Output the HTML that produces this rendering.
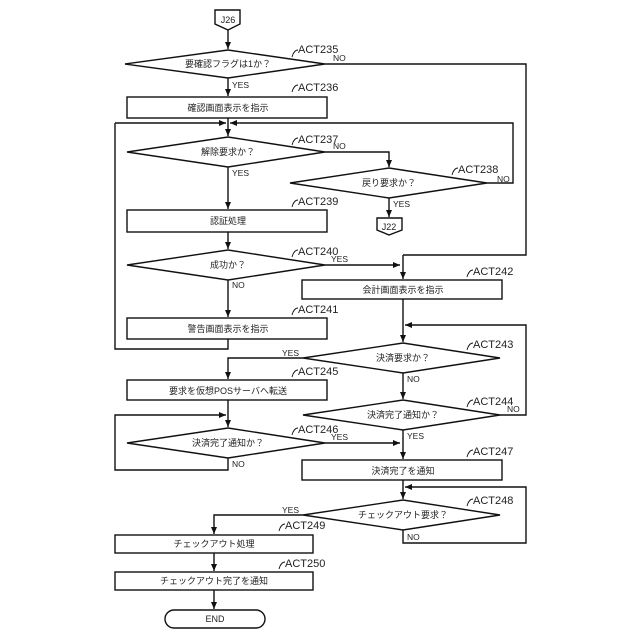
<!DOCTYPE html>
<html><head><meta charset="utf-8"><style>
html,body{margin:0;padding:0;background:#fff}
svg{display:block}
text{font-family:"Liberation Sans","Noto Sans CJK JP",sans-serif;fill:#222}
.t{font-size:9px;text-anchor:middle}
.a{font-size:11px}
.s{font-size:8.5px}
</style></head><body>
<svg width="640" height="640" viewBox="0 0 640 640" xmlns="http://www.w3.org/2000/svg">
<defs><marker id="ar" markerWidth="8" markerHeight="8" refX="7" refY="4" orient="auto" markerUnits="userSpaceOnUse"><path d="M0,1 L7,4 L0,7 Z" fill="#111"/></marker></defs>
<g fill="none" stroke="#111" stroke-width="1.4">
<!-- J26 -->
<path d="M215,10 H240 V24 L228,30 L215,24 Z"/>
<line x1="228" y1="30" x2="228" y2="49" marker-end="url(#ar)"/>
<!-- ACT235 -->
<path d="M125,64 L228,50 L325,64 L228,78 Z"/>
<polyline points="325,64 526,64 526,255 403,255"/>
<line x1="228" y1="78" x2="228" y2="96" marker-end="url(#ar)"/>
<rect x="127" y="97" width="200" height="21"/>
<line x1="228" y1="118" x2="228" y2="136" marker-end="url(#ar)"/>
<polyline points="115,123 115,349 228,349 228,339"/>
<line x1="115" y1="123" x2="226" y2="123" marker-end="url(#ar)"/>
<polyline points="487,183 513,183 513,123 240,123"/>
<line x1="240" y1="123" x2="230" y2="123" marker-end="url(#ar)"/>
<!-- ACT237 -->
<path d="M127,152 L228,137 L325,152 L228,167 Z"/>
<polyline points="325,152 389,152 389,167" marker-end="url(#ar)"/>
<path d="M290,183 L389,168 L487,183 L389,198 Z"/>
<line x1="389" y1="198" x2="389" y2="217" marker-end="url(#ar)"/>
<path d="M377,218 H402 V230 L389,235 L377,230 Z"/>
<line x1="228" y1="167" x2="228" y2="209" marker-end="url(#ar)"/>
<rect x="127" y="210" width="200" height="22"/>
<line x1="228" y1="232" x2="228" y2="249" marker-end="url(#ar)"/>
<path d="M127,265 L228,250 L325,265 L228,280 Z"/>
<line x1="325" y1="265" x2="400" y2="265" marker-end="url(#ar)"/>
<line x1="228" y1="280" x2="228" y2="317" marker-end="url(#ar)"/>
<rect x="127" y="318" width="200" height="21"/>
<line x1="403" y1="255" x2="403" y2="279" marker-end="url(#ar)"/>
<rect x="302" y="280" width="200" height="19"/>
<line x1="403" y1="299" x2="403" y2="342" marker-end="url(#ar)"/>
<polyline points="500,415 526,415 526,325 405,325" marker-end="url(#ar)"/>
<path d="M303,358 L403,343 L500,358 L403,373 Z"/>
<polyline points="303,358 228,358 228,379" marker-end="url(#ar)"/>
<rect x="127" y="380" width="200" height="20"/>
<line x1="228" y1="400" x2="228" y2="427" marker-end="url(#ar)"/>
<polyline points="228,458 228,470 115,470 115,415 226,415" marker-end="url(#ar)"/>
<path d="M127,443 L228,428 L325,443 L228,458 Z"/>
<line x1="325" y1="443" x2="400" y2="443" marker-end="url(#ar)"/>
<line x1="403" y1="373" x2="403" y2="399" marker-end="url(#ar)"/>
<path d="M303,415 L403,400 L500,415 L403,430 Z"/>
<line x1="403" y1="430" x2="403" y2="459" marker-end="url(#ar)"/>
<rect x="302" y="460" width="200" height="20"/>
<line x1="403" y1="480" x2="403" y2="499" marker-end="url(#ar)"/>
<polyline points="403,530 403,543 526,543 526,487 405,487" marker-end="url(#ar)"/>
<path d="M303,515 L403,500 L500,515 L403,530 Z"/>
<polyline points="303,515 214,515 214,534" marker-end="url(#ar)"/>
<rect x="115" y="535" width="198" height="18"/>
<line x1="214" y1="553" x2="214" y2="571" marker-end="url(#ar)"/>
<rect x="115" y="572" width="198" height="18"/>
<line x1="214" y1="590" x2="214" y2="609" marker-end="url(#ar)"/>
<rect x="165" y="610" width="100" height="18" rx="9"/>
<!-- hooks -->
<g stroke-width="0.9">
<path d="M292,57 q2,-7 6,-7"/><path d="M292,92 q2,-7 6,-7"/><path d="M292,145 q2,-7 6,-7"/>
<path d="M452,175 q2,-7 6,-7"/><path d="M292,207 q2,-7 6,-7"/><path d="M292,257 q2,-7 6,-7"/>
<path d="M467,277 q2,-7 6,-7"/><path d="M292,315 q2,-7 6,-7"/><path d="M467,350 q2,-7 6,-7"/>
<path d="M292,377 q2,-7 6,-7"/><path d="M467,407 q2,-7 6,-7"/><path d="M292,435 q2,-7 6,-7"/>
<path d="M467,457 q2,-7 6,-7"/><path d="M467,506 q2,-7 6,-7"/><path d="M279,531 q2,-7 6,-7"/>
<path d="M279,569 q2,-7 6,-7"/>
</g>
</g>
<text class="t" x="228" y="23">J26</text>
<text class="t" x="389" y="230">J22</text>
<text class="t" x="228" y="67">要確認フラグは1か？</text>
<text class="t" x="228" y="111">確認画面表示を指示</text>
<text class="t" x="228" y="155">解除要求か？</text>
<text class="t" x="389" y="186">戻り要求か？</text>
<text class="t" x="228" y="224">認証処理</text>
<text class="t" x="228" y="268">成功か？</text>
<text class="t" x="228" y="332">警告画面表示を指示</text>
<text class="t" x="403" y="293">会計画面表示を指示</text>
<text class="t" x="403" y="361">決済要求か？</text>
<text class="t" x="228" y="394">要求を仮想POSサーバへ転送</text>
<text class="t" x="228" y="446">決済完了通知か？</text>
<text class="t" x="403" y="418">決済完了通知か？</text>
<text class="t" x="403" y="474">決済完了を通知</text>
<text class="t" x="403" y="518">チェックアウト要求？</text>
<text class="t" x="214" y="547">チェックアウト処理</text>
<text class="t" x="214" y="584">チェックアウト完了を通知</text>
<text class="t" x="215" y="622">END</text>
<g class="a">
<text x="298" y="53">ACT235</text><text x="298" y="91">ACT236</text><text x="298" y="143">ACT237</text>
<text x="458" y="173">ACT238</text><text x="298" y="205">ACT239</text><text x="298" y="255">ACT240</text>
<text x="473" y="275">ACT242</text><text x="298" y="313">ACT241</text><text x="473" y="348">ACT243</text>
<text x="298" y="375">ACT245</text><text x="473" y="405">ACT244</text><text x="298" y="433">ACT246</text>
<text x="473" y="455">ACT247</text><text x="473" y="504">ACT248</text><text x="285" y="529">ACT249</text>
<text x="285" y="567">ACT250</text>
</g>
<g class="s">
<text x="333" y="61">NO</text><text x="232" y="88">YES</text><text x="333" y="149">NO</text>
<text x="232" y="176">YES</text><text x="497" y="182">NO</text><text x="393" y="207">YES</text>
<text x="331" y="262">YES</text><text x="232" y="288">NO</text>
<text x="282" y="356">YES</text><text x="407" y="382">NO</text><text x="507" y="412">NO</text>
<text x="331" y="440">YES</text><text x="407" y="439">YES</text><text x="232" y="467">NO</text>
<text x="282" y="513">YES</text><text x="407" y="540">NO</text>
</g>
</svg>
</body></html>
